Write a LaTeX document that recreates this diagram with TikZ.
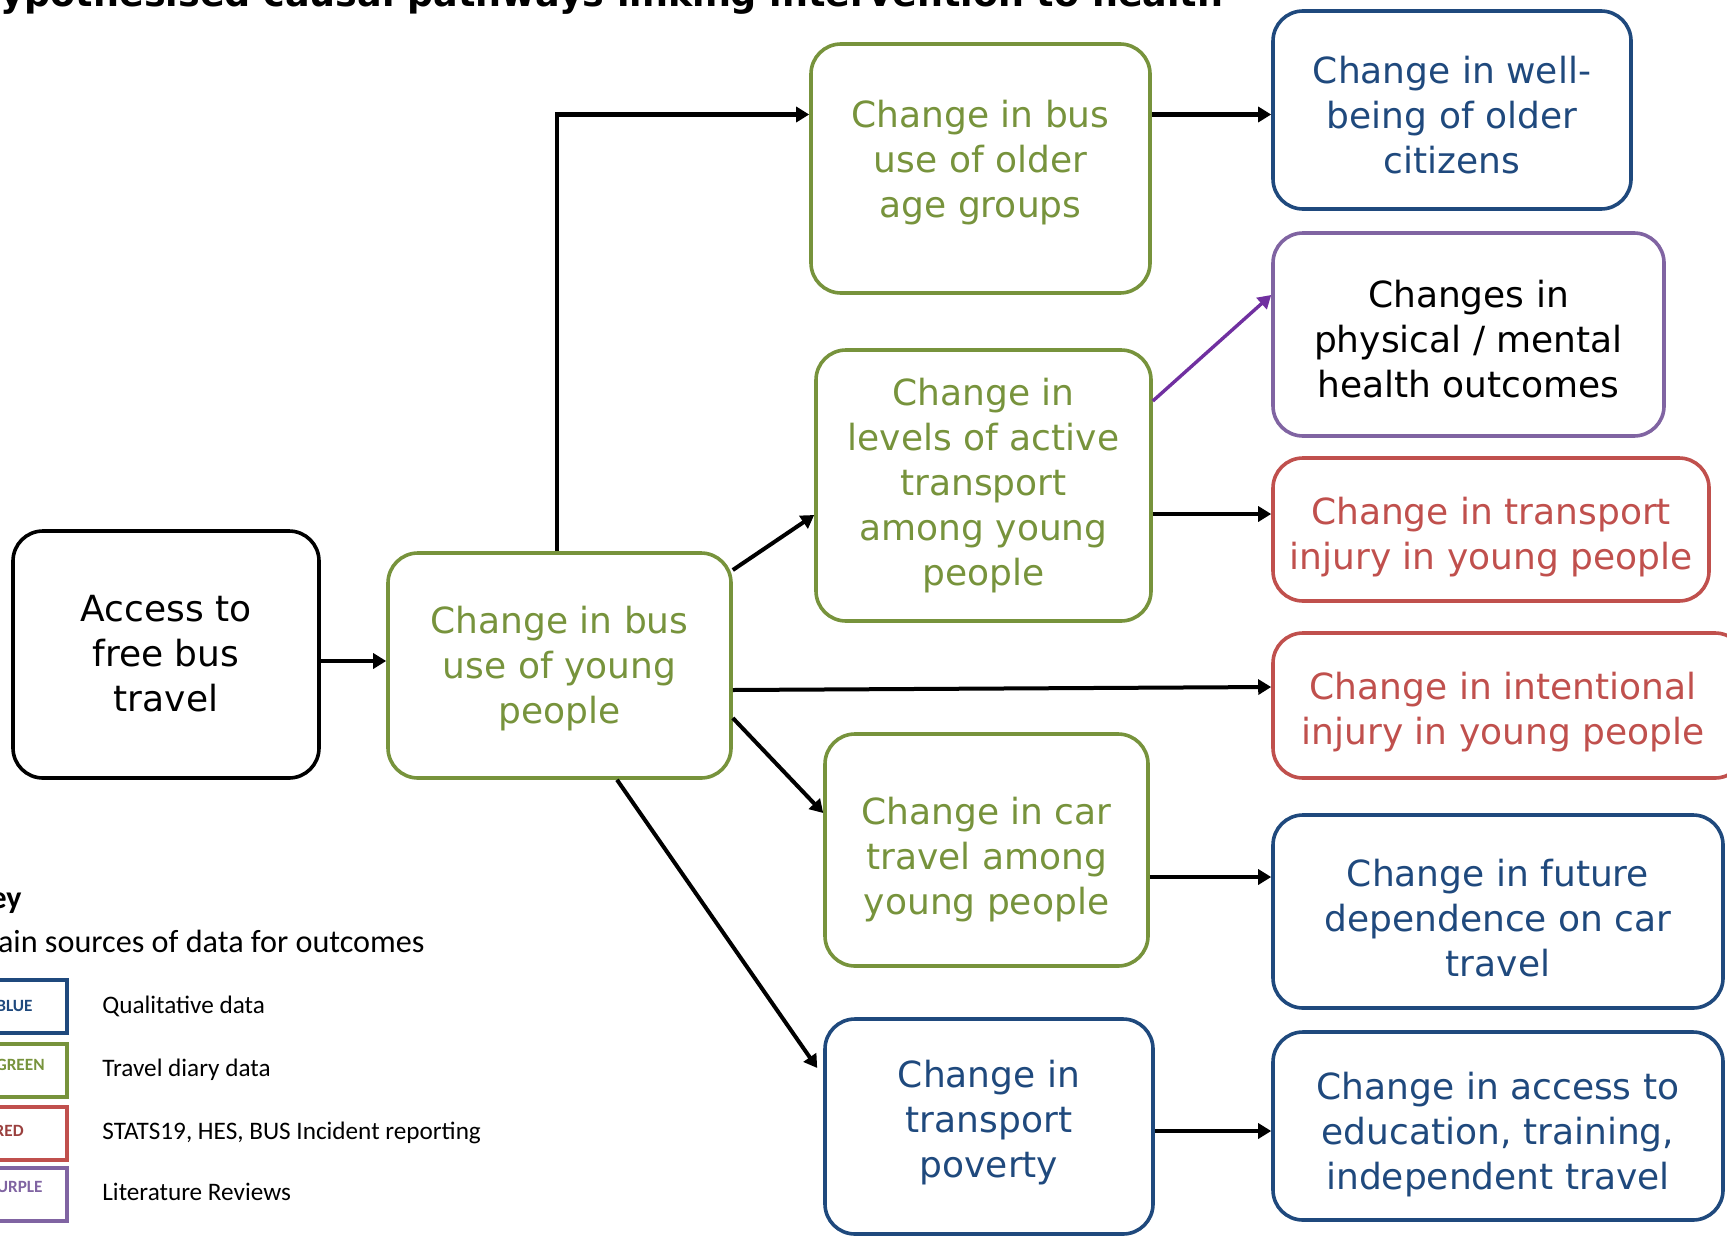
\documentclass[tikz,border=0pt]{standalone}
\usepackage{fontspec}
\setmainfont{DejaVu Sans}
\newfontfamily\keyfont{Carlito}
\usetikzlibrary{arrows.meta,calc}
\definecolor{og}{HTML}{77933C}
\definecolor{db}{HTML}{1F497D}
\definecolor{rd}{HTML}{C0504D}
\definecolor{pu}{HTML}{8064A2}
\definecolor{parrow}{HTML}{7030A0}
\begin{document}
\begin{tikzpicture}[x=0.5pt,y=-0.5pt,
  box/.style={draw=#1, rounded corners=15pt, line width=1.8pt, inner sep=0pt},
  txt/.style={text=#1, align=center, font=\fontsize{18}{22.5}\selectfont, inner sep=0pt},
  sz/.style 2 args={minimum width=#1pt, minimum height=#2pt},
  arr/.style={line width=2pt, -{Triangle[length=6.5pt,width=7.5pt]}},
  keybox/.style={draw=#1, line width=2pt, minimum width=63.5pt, minimum height=26.5pt, inner sep=0pt},
  keylab/.style={anchor=base east, text=#1, font=\keyfont\bfseries\fontsize{8.6}{10}\selectfont, inner sep=0pt},
  keyitem/.style={anchor=base west, font=\keyfont\fontsize{12.6}{15}\selectfont, inner sep=0pt}]
\useasboundingbox (0,0) rectangle (1727,1236);

% title (cut off at the top)
\node[anchor=base west, inner sep=0pt, font=\bfseries\fontsize{18.25}{22}\selectfont] (title) at (-30,7)
  {Hypothesised causal pathways linking intervention to health};

% main boxes
\node[box=black, sz={153}{123.5}] (access) at (166,654.5) {};
\node[box=og, sz={171.5}{112.5}] (young) at (559.5,665.5) {};
\node[box=og, sz={169.5}{124.5}] (older) at (980.5,168.5) {};
\node[box=og, sz={167.5}{135.5}] (active) at (983.5,485.5) {};
\node[box=og, sz={161.5}{116}] (car) at (986.5,850) {};
\node[box=db, sz={164}{107.5}] (poverty) at (989,1126.5) {};
\node[box=db, sz={179}{99}] (wellbeing) at (1452,110) {};
\node[box=pu, sz={195.5}{101.5}] (physical) at (1468.5,334.5) {};
\node[box=rd, sz={218}{71.5}] (transport) at (1491,529.5) {};
\node[box=rd, sz={236}{72.5}] (intentional) at (1509,705.5) {};
\node[box=db, sz={225}{96.5}] (future) at (1498,911.5) {};
\node[box=db, sz={225}{94}] (education) at (1498,1126) {};

% box texts
\node[txt=black] (access-t) at ($(access)+(0,-1)$) {Access to\\free bus\\travel};
\node[txt=og] (young-t) at ($(young)+(0,3.3)$) {Change in bus\\use of young\\people};
\node[txt=og] (older-t) at ($(older)+(0,-5.5)$) {Change in bus\\use of older\\age groups};
\node[txt=og] (active-t) at (active) {Change in\\levels of active\\transport\\among young\\people};
\node[txt=og] (car-t) at ($(car)+(0,9.9)$) {Change in car\\travel among\\young people};
\node[txt=db] (poverty-t) at ($(poverty)+(0,-4.4)$) {Change in\\transport\\poverty};
\node[txt=db] (wellbeing-t) at ($(wellbeing)+(0,5.5)$) {Change in well-\\being of older\\citizens};
\node[txt=black] (physical-t) at ($(physical)+(0,4.4)$) {Changes in\\physical / mental\\health outcomes};
\node[txt=rd] (transport-t) at ($(transport)+(0,7.7)$) {Change in transport\\injury in young people};
\node[txt=rd] (intentional-t) at ($(intentional)+(-6,6.6)$) {Change in intentional\\injury in young people};
\node[txt=db] (future-t) at ($(future)+(0,6.6)$) {Change in future\\dependence on car\\travel};
\node[txt=db] (education-t) at ($(education)+(0,8.8)$) {Change in access to\\education, training,\\independent travel};

% connector end points
\coordinate (c1) at ($(access.east)+(0,6.5)$);
\coordinate (c2) at ($(older.west)+(0,-54)$);
\coordinate (c3) at ($(older.east)+(0,-54)$);
\coordinate (c4) at ($(active.east)+(0,28.5)$);
\coordinate (c5) at ($(car.east)+(0,27)$);
\coordinate (c6) at ($(poverty.east)+(0,4.5)$);

% connectors
\draw[arr] (c1) -- (c1 -| young.west);
\draw[arr] ($(young.north)+(-2.5,0)$) |- (c2);
\draw[arr] ($(young.east)+(0,-95.5)$) -- ($(active.west)+(0,29.5)$);
\draw[arr] ($(young.east)+(0,24.5)$) -- ($(intentional.west)+(0,-18.5)$);
\draw[arr] ($(young.east)+(0,52.5)$) -- ($(car.west)+(0,-37)$);
\draw[arr] ($(young.south)+(57.5,0)$) -- ($(poverty.west)+(-6,-58.5)$);
\draw[arr] (c3) -- (c3 -| wellbeing.west);
\draw[arr, draw=parrow, fill=parrow, line width=1.7pt] ($(active.east)+(0,-84.5)$) -- ($(physical.west)+(0,-39.5)$);
\draw[arr] (c4) -- (c4 -| transport.west);
\draw[arr] (c5) -- (c5 -| future.west);
\draw[arr] (c6) -- (c6 -| education.west);

% key
\node[anchor=base east, inner sep=0pt, font=\keyfont\bfseries\fontsize{16}{19}\selectfont] (keyt) at (22,908) {Key};
\node[anchor=base east, inner sep=0pt, font=\keyfont\fontsize{16.1}{19}\selectfont] (keysub) at (425,952) {Main sources of data for outcomes};

\node[keybox=db] (kb1) at (3.5,1006.5) {};
\node[keybox=og] (kb2) at (3.5,1070) {};
\node[keybox=rd] (kb3) at (3.5,1133) {};
\node[keybox=pu] (kb4) at (3.5,1194.5) {};
\node[keylab=db] (kl1) at (33,1011) {BLUE};
\node[keylab=og] (kl2) at (45,1070) {GREEN};
\node[keylab=rd!80!black] (kl3) at (24,1136) {RED};
\node[keylab=pu] (kl4) at (43,1192) {PURPLE};
\node[keyitem] (ki1) at (102,1013) {Qualitative data};
\node[keyitem] (ki2) at (102,1076) {Travel diary data};
\node[keyitem] (ki3) at (102,1139) {STATS19, HES, BUS Incident reporting};
\node[keyitem] (ki4) at (102,1200) {Literature Reviews};
\end{tikzpicture}
\end{document}
